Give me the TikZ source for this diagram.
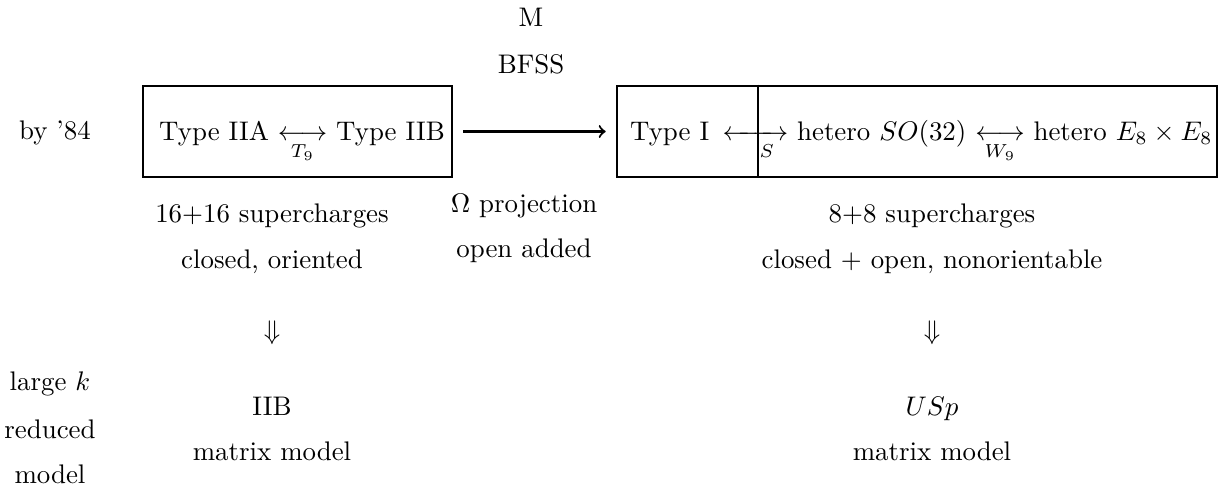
\documentclass[tikz,border=0pt]{standalone}
\usepackage{amsmath,mathtools}
\usepackage{tikz}
\usetikzlibrary{calc}

\tikzset{
	txt/.style={anchor=base, inner sep=0pt},
	theorybox/.style={draw, line width=1pt, minimum height=33.9pt, inner sep=0pt}
}

\begin{document}
\begin{tikzpicture}[x=0.372pt, y=-0.372pt, line width=0.8pt]

	\useasboundingbox (0,0) rectangle (1228,490);

	% top labels
	\node[txt] (m) at (531,26) {M};
	\node[txt] (bfss) at (531,73) {BFSS};
	\node[txt] (by84) at (55,139) {by '84};

	% the two boxes
	\node[theorybox, minimum width=115pt] (iibox) at (297.5,131.5) {};
	\node[theorybox, minimum width=223.2pt] (ibox) at (917,131.5) {};
	\node[txt] (iitext) at (302,140)
		{Type IIA $\underset{T_9}{\longleftrightarrow}$ Type IIB};
	\node[txt, anchor=base west] (itext) at (629,140)
		{Type I \,$\xleftrightarrow[\hspace{7pt}S]{\hspace{18pt}}$ hetero $SO(32)$ $\underset{W_9}{\longleftrightarrow}$ hetero $E_8\times E_8$};
	\coordinate (split) at (758,131.5);
	\draw[line width=1pt] (ibox.north -| split) -- (ibox.south -| split);

	\draw[->, shorten <=3.7pt, shorten >=3.7pt] (iibox) -- (ibox);

	% middle column
	\node[txt] (omega) at (524,212) {$\Omega$ projection};
	\node[txt] (open) at (524,257) {open added};

	% left column
	\node[txt] (susyA) at (272,222) {16+16 supercharges};
	\node[txt] (closedA) at (272,268) {closed, oriented};
	\node (downA) at (272,333) {$\Downarrow$};
	\node[txt] (iib) at (272,415) {IIB};
	\node[txt] (mmA) at (272,460) {matrix model};

	% right column
	\node[txt] (susyB) at (932,222) {8+8 supercharges};
	\node[txt] (closedB) at (932,268) {closed + open, nonorientable};
	\node (downB) at (932,333) {$\Downarrow$};
	\node[txt] (usp) at (932,415) {$USp$};
	\node[txt] (mmB) at (932,460) {matrix model};

	% side labels
	\node[txt] (largek) at (50,390) {large $k$};
	\node[txt] (reduced) at (50,438) {reduced};
	\node[txt] (model) at (50,483) {model};

\end{tikzpicture}
\end{document}
